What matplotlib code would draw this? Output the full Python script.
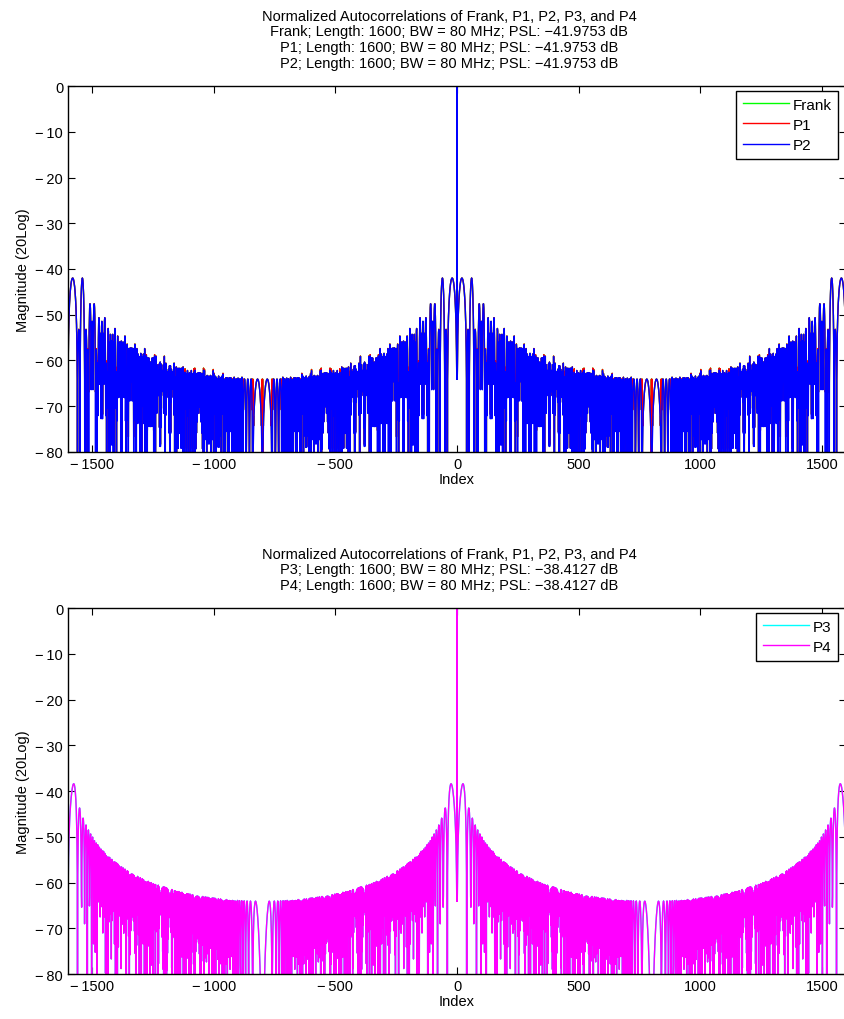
import numpy as np
import matplotlib
matplotlib.use("Agg")
import matplotlib.pyplot as plt
from matplotlib.ticker import FuncFormatter

plt.rcParams['font.family'] = ['Liberation Sans', 'DejaVu Sans']
plt.rcParams['font.size'] = 10

# code parameters
M = 40                 # Frank / P1 / P2 group size
N = M * M              # code length
BW_MHZ = 80
top_codes = ['Frank', 'P1', 'P2']
top_colors = ['#00ff00', '#ff0000', '#0000ff']
bottom_codes = ['P3', 'P4']
bottom_colors = ['#00ffff', '#ff00ff']
yticks = [0, -10, -20, -30, -40, -50, -60, -70, -80]
xticks = [-1500, -1000, -500, 0, 500, 1000, 1500]


def phase_code(name):
    if name in ('Frank', 'P1', 'P2'):
        # g = group number, k = element within the group
        g, k = np.meshgrid(np.arange(1, M + 1), np.arange(1, M + 1), indexing='ij')
        if name == 'Frank':
            phi = 2 * np.pi / M * (g - 1) * (k - 1)
        elif name == 'P1':
            phi = -np.pi / M * (M - (2 * g - 1)) * ((g - 1) * M + (k - 1))
        else:
            phi = np.pi / (2 * M) * (M + 1 - 2 * g) * (M + 1 - 2 * k)
        phi = phi.ravel()
    else:
        n = np.arange(N)
        phi = np.pi * n ** 2 / N
        if name == 'P4':
            phi = phi - np.pi * n
    return np.exp(1j * phi)


def autocorr_db(code):
    r = np.abs(np.correlate(code, code, mode='full'))
    r = r / r.max()
    with np.errstate(divide='ignore'):
        return 20 * np.log10(r)


lags = np.arange(-(N - 1), N)


def psl(db):
    side = db.copy()
    side[N - 1] = -np.inf
    return side.max()


def tick_fmt(v, pos):
    if v < 0:
        return '\u2212\u2009%d' % -v
    return '%d' % v


def draw(ax, names, colors, title_head):
    lines = [title_head]
    for name, col in zip(names, colors):
        db = autocorr_db(phase_code(name))
        ax.plot(lags, db, color=col, lw=1.0, label=name)
        lines.append('%s; Length: %d; BW = %d MHz; PSL: \u2212%.4f dB'
                     % (name, N, BW_MHZ, -psl(db)))
    ax.set_xlim(-(N - 1), N - 1)
    ax.set_ylim(-80, 0)
    ax.set_xticks(xticks)
    ax.set_yticks(yticks)
    ax.xaxis.set_major_formatter(FuncFormatter(tick_fmt))
    ax.yaxis.set_major_formatter(FuncFormatter(tick_fmt))
    ax.tick_params(direction='in', top=True, right=True, length=5, width=0.8,
                   labelsize=10.5)
    for s in ax.spines.values():
        s.set_linewidth(1.0)
    ax.set_xlabel('Index', labelpad=1, fontsize=10.5)
    ax.set_ylabel('Magnitude (20Log)', labelpad=4, fontsize=10.5)
    t = ax.set_title('\n'.join(lines), fontsize=10.5, linespacing=1.14, pad=14)
    t.set_x(0.49)
    leg = ax.legend(loc='upper right', bbox_to_anchor=(0.99, 0.987),
                    fancybox=False, framealpha=1, edgecolor='black',
                    fontsize=11, handlelength=3.0, handletextpad=0.25,
                    labelspacing=0.4, borderpad=0.45, borderaxespad=0)
    leg.get_frame().set_linewidth(1.0)


fig = plt.figure(figsize=(8.45, 10.2), dpi=100)
ax1 = fig.add_axes([0.0805, 0.5559, 0.9207, 0.3588])
ax2 = fig.add_axes([0.0805, 0.0441, 0.9207, 0.3588])

head = 'Normalized Autocorrelations of Frank, P1, P2, P3, and P4'
draw(ax1, top_codes, top_colors, head)
draw(ax2, bottom_codes, bottom_colors, head)

fig.savefig('out.png', dpi=100)
